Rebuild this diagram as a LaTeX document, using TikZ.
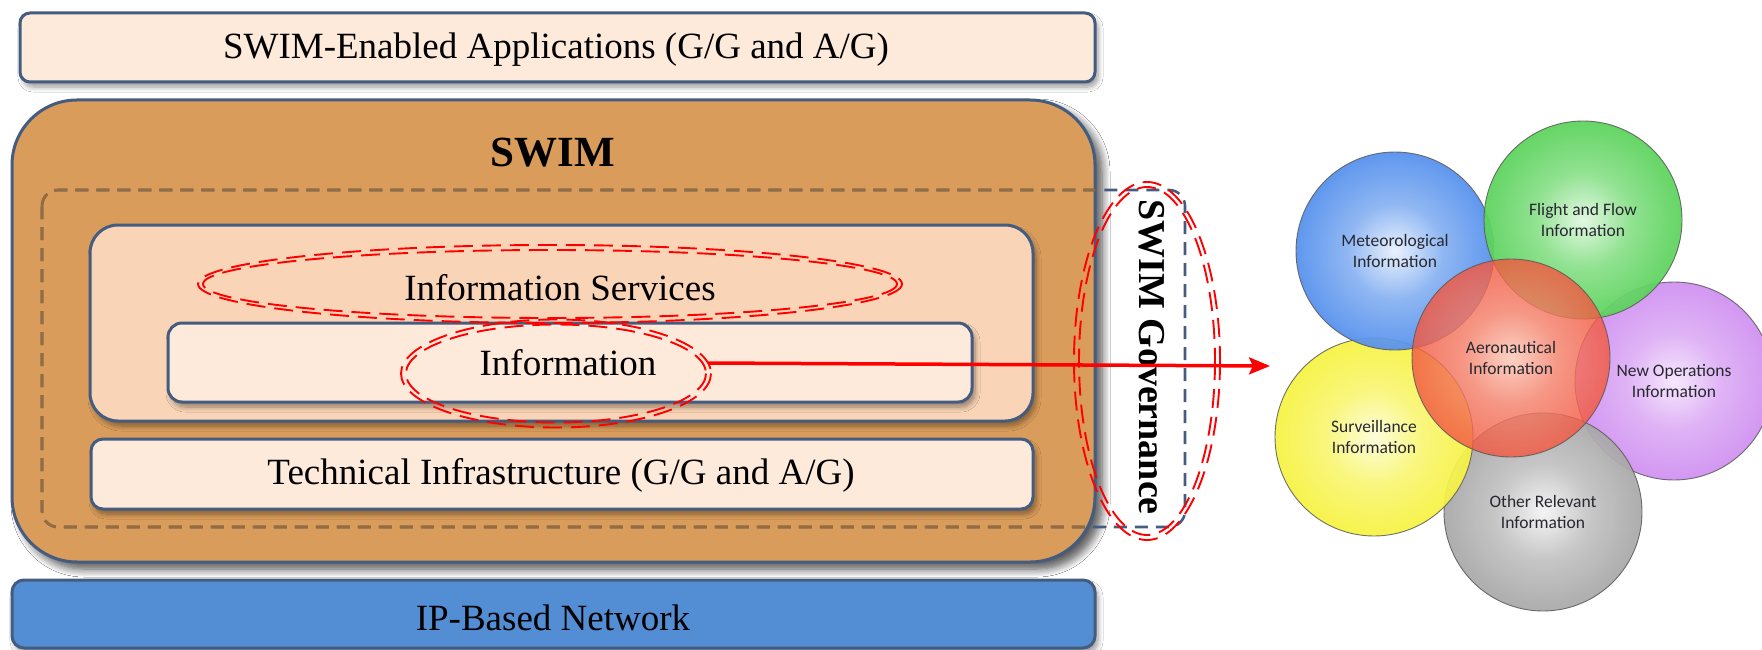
\documentclass[tikz,border=0pt]{standalone}
\usepackage{fontspec}
\setmainfont{Liberation Serif}
\newfontfamily\ballfont{Carlito}
\usetikzlibrary{shapes.geometric,arrows.meta,shadows.blur}

\definecolor{frameblue}{RGB}{68,92,128}
\definecolor{paleapricot}{RGB}{253,234,219}
\definecolor{apricot}{RGB}{250,212,182}
\definecolor{swimtan}{RGB}{217,156,90}
\definecolor{netblue}{RGB}{83,141,212}
\definecolor{dashbrown}{RGB}{150,108,62}
\definecolor{textgrey}{RGB}{40,40,48}

\definecolor{blueC}{RGB}{232,241,253}\definecolor{blueE}{RGB}{40,115,232}
\definecolor{greenC}{RGB}{225,248,225}\definecolor{greenE}{RGB}{50,200,50}
\definecolor{purpleC}{RGB}{246,230,253}\definecolor{purpleE}{RGB}{196,118,238}
\definecolor{yellowC}{RGB}{253,253,215}\definecolor{yellowE}{RGB}{245,240,20}
\definecolor{greyC}{RGB}{244,244,244}\definecolor{greyE}{RGB}{145,145,145}
\definecolor{redC}{RGB}{250,200,182}\definecolor{redE}{RGB}{240,55,30}

% soft radial shading: pale centre, saturated rim
\makeatletter
\pgfdeclareradialshading[tikz@radial@inner,tikz@radial@outer]{softball}{\pgfpoint{0bp}{0bp}}{%
  color(0bp)=(tikz@radial@inner);
  color(12bp)=(tikz@radial@inner!50!tikz@radial@outer);
  color(36bp)=(tikz@radial@outer);
  color(50bp)=(tikz@radial@outer)}
\makeatother

\tikzset{
  layer/.style={draw=frameblue, line width=3pt, inner sep=0pt,
    blur shadow={shadow xshift=3pt, shadow yshift=-5pt, shadow blur radius=5pt, shadow blur steps=8}},
  serif37/.style={font=\fontsize{37}{44}\selectfont, inner sep=0pt, text=black},
  govline/.style={line width=2.6pt, dash pattern=on 13pt off 8pt},
  redring/.style={draw=red, line width=1.9pt, dash pattern=on 19pt off 9pt},
  ball/.style 2 args={circle, minimum size=198pt, inner sep=0pt,
    draw=black!65, line width=0.9pt, draw opacity=0.85,
    fill opacity=0.93, text opacity=1,
    inner color=#1, outer color=#2, shading=softball,
    align=center, text=textgrey,
    font=\ballfont\fontsize{17.5}{21}\selectfont},
  arrowred/.style={draw=red, line width=3.5pt,
    -{Stealth[length=21pt, width=17pt, inset=4pt]}},
}

\begin{document}
\begin{tikzpicture}[x=1pt, y=-1pt]
\clip (0,0) rectangle (1762,650);
\fill[white] (0,0) rectangle (1762,650);

% ---- layered SWIM stack ----
\node[layer, fill=paleapricot, minimum width=1075pt, minimum height=69pt,
      rounded corners=10pt] (apps) at (557.5,47.5) {};
\node[serif37] (appstext) at (556,50) {SWIM-Enabled Applications (G/G and A/G)};

\node[layer, fill=swimtan, minimum width=1083pt, minimum height=462pt,
      rounded corners=65pt,
      blur shadow={shadow xshift=7pt, shadow yshift=-7pt, shadow blur radius=8pt}] (swim) at (553.5,331) {};

% governance dashed frame: blue outside the SWIM box, brown inside it
\draw[govline, draw=frameblue, rounded corners=16pt] (42,190) rectangle (1185,527);
\begin{scope}
  \clip[rounded corners=65pt] (12,100) rectangle (1095,562);
  \draw[govline, draw=dashbrown, rounded corners=16pt] (42,190) rectangle (1185,527);
\end{scope}

\node[font=\bfseries\fontsize{43}{50}\selectfont, text=black, inner sep=0pt] (swimtitle) at (553,153) {SWIM};

\node[layer, fill=apricot, minimum width=943pt, minimum height=196pt,
      rounded corners=28pt] (infoserv) at (561.5,323) {};
\node[serif37] (infoservtext) at (560,288) {Information Services};

\node[layer, fill=paleapricot, minimum width=804pt, minimum height=79pt,
      rounded corners=14pt] (info) at (570,362.5) {};
\node[serif37] (infotext) at (568,363) {Information};

\node[layer, fill=paleapricot, minimum width=942pt, minimum height=70pt,
      rounded corners=12pt] (tech) at (562,474) {};
\node[serif37] (techtext) at (561,475) {Technical Infrastructure (G/G and A/G)};

\node[layer, fill=netblue, minimum width=1083pt, minimum height=68pt,
      rounded corners=12pt] (net) at (553.5,614) {};
\node[serif37] (nettext) at (553,618) {IP-Based Network};

\node[font=\bfseries\fontsize{38}{44}\selectfont, rotate=-90, inner sep=0pt] (govtext) at (1152,357) {SWIM Governance};

% ---- red double dashed highlights ----
\node[ellipse, minimum width=698pt, minimum height=72pt, inner sep=0pt] (servell) at (550,284) {};
\draw[redring] (servell.center) ellipse [x radius=352, y radius=39];
\draw[redring] (servell.center) ellipse [x radius=347, y radius=34];

\node[ellipse, minimum width=304pt, minimum height=102pt, inner sep=0pt] (infoell) at (556,373.5) {};
\draw[redring] (infoell.center) ellipse [x radius=155, y radius=54];
\draw[redring] (infoell.center) ellipse [x radius=150, y radius=49];

\node[ellipse, minimum width=140pt, minimum height=352pt, inner sep=0pt] (govell) at (1147,361) {};
\draw[redring] (govell.center) ellipse [x radius=73, y radius=179];
\draw[redring] (govell.center) ellipse [x radius=68, y radius=174];

% ---- information domains ----
\node[ball={purpleC}{purpleE}] (newops) at (1674,381) {New Operations\\Information};
\node[ball={greyC}{greyE}] (other) at (1543,512) {Other Relevant\\Information};
\node[ball={yellowC}{yellowE}] (surv) at (1374,437) {Surveillance\\Information};
\node[ball={blueC}{blueE}] (met) at (1395,251) {Meteorological\\Information};
\node[ball={greenC}{greenE}] (flight) at (1583,220) {Flight and Flow\\Information};
\node[ball={redC}{redE}, fill opacity=0.82] (aero) at (1511,358) {Aeronautical\\Information};

% ---- link from Information to the domains ----
\coordinate (arrowend) at (1270,366);
\draw[arrowred] (infoell.east |- infotext.center) -- (arrowend);
\end{tikzpicture}
\end{document}
